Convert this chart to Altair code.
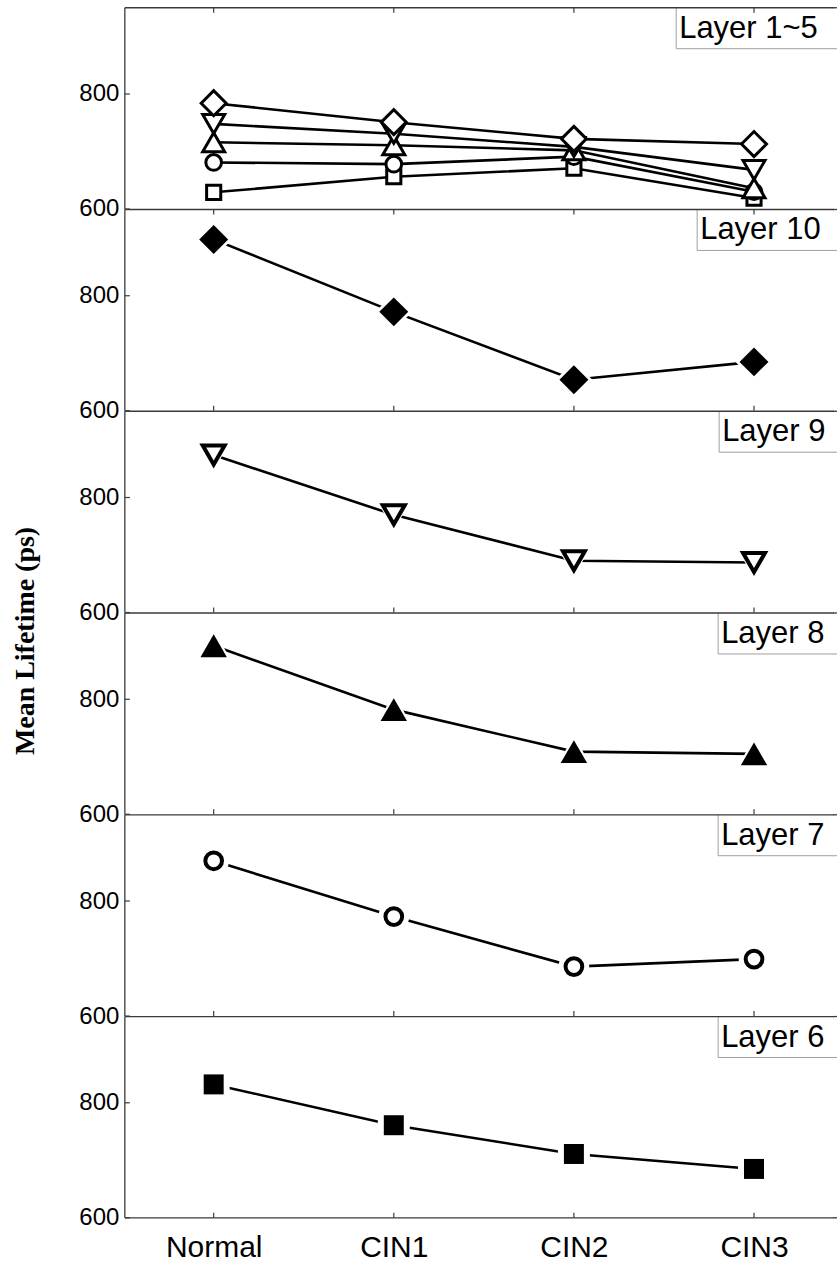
import altair as alt
import pandas as pd

# ---------------- data ----------------
stages = ["Normal", "CIN1", "CIN2", "CIN3"]
layer1 = [629, 656, 671, 619]
layer2 = [681, 678, 691, 630]
layer3 = [716, 711, 702, 636]
layer4 = [748, 731, 708, 668]
layer5 = [784, 751, 722, 713]
layer6 = [832, 761, 711, 685]
layer7 = [870, 773, 686, 699]
layer8 = [893, 782, 709, 705]
layer9 = [874, 770, 690, 687]
layer10 = [898, 772, 654, 685]

panel_titles = ["Layer 1~5", "Layer 10", "Layer 9", "Layer 8", "Layer 7", "Layer 6"]
y_ticks = [600, 800]
y_domain = [600, 950]
y_title = "Mean Lifetime (ps)"

# ---------------- style ----------------
W = 713
H = 201.5
FONT = "Liberation Sans"
FRAME = "#3a3a3a"
BOX_STROKE = "#a0a0a0"
BOX_H = 41
TICK = 5

xscale = alt.Scale(type="point", domain=stages, padding=0.477, align=0.517)
yscale = alt.Scale(domain=y_domain, nice=False, zero=False)
y_axis = alt.Axis(values=y_ticks, orient="left", ticks=False, tickSize=0, domain=False,
                  grid=False, labelPadding=6, labelFontSize=24, labelFont=FONT,
                  labelColor="black", title=None)
x_axis_lab = alt.Axis(orient="bottom", ticks=False, tickSize=0, domain=False,
                      grid=False, labelPadding=15, labelFontSize=30, labelFont=FONT,
                      labelColor="black", labelAngle=0, title=None)

stage_df = pd.DataFrame({"stage": stages})
ytick_df = pd.DataFrame({"value": y_ticks})

no_view = alt.ViewBackground(stroke="transparent", strokeWidth=0)


def build_panel(title, series, box_left, top_ticks, bottom_ticks, halo=None,
                ytitle=False, last=False):
    xax = x_axis_lab if last else None

    def xenc():
        return alt.X("stage:N", sort=stages, scale=xscale, axis=xax)

    def yenc():
        return alt.Y("value:Q", scale=yscale, axis=y_axis)

    rows = [{"stage": st, "value": v, "series": s["name"]}
            for s in series for st, v in zip(stages, s["values"])]
    df = pd.DataFrame(rows)
    base = alt.Chart(df)
    one = pd.DataFrame({"label": [title]})
    layers = []
    # lines (first, so that axes come from it)
    layers.append(base.mark_line(color="black", strokeWidth=2.6).encode(
        x=xenc(), y=yenc(), detail="series:N"))
    # label box
    layers.append(alt.Chart(one).mark_rect(fill="white").encode(
        x=alt.value(box_left), x2=alt.value(W), y=alt.value(0), y2=alt.value(BOX_H)))
    layers.append(alt.Chart(one).mark_rule(color=BOX_STROKE, strokeWidth=1).encode(
        x=alt.value(box_left), y=alt.value(0), y2=alt.value(BOX_H)))
    layers.append(alt.Chart(one).mark_rule(color=BOX_STROKE, strokeWidth=1).encode(
        x=alt.value(box_left), x2=alt.value(W), y=alt.value(BOX_H)))
    # inward ticks
    if top_ticks:
        layers.append(alt.Chart(stage_df).mark_rule(color=FRAME, strokeWidth=1.2).encode(
            x=xenc(), y=alt.value(0), y2=alt.value(TICK)))
    if bottom_ticks:
        layers.append(alt.Chart(stage_df).mark_rule(color=FRAME, strokeWidth=1.2).encode(
            x=xenc(), y=alt.value(H - TICK), y2=alt.value(H)))
    layers.append(alt.Chart(ytick_df).mark_rule(color=FRAME, strokeWidth=1.2).encode(
        y=yenc(), x=alt.value(0), x2=alt.value(TICK)))
    # halo (gap around markers)
    if halo is not None:
        s = series[0]
        layers.append(base.mark_point(shape=s["shape"], size=halo, filled=True,
                                      fill="white", strokeWidth=0, opacity=1).encode(
            x=xenc(), y=yenc()))
    # markers
    for s in series:
        layers.append(base.transform_filter(alt.datum.series == s["name"]).mark_point(
            shape=s["shape"], size=s["size"], filled=True,
            fill="white" if s["open"] else "black", stroke="black",
            strokeWidth=s["sw"], opacity=1).encode(x=xenc(), y=yenc()))
    # frame
    layers.append(alt.Chart(one).mark_rule(color=FRAME, strokeWidth=1.3).encode(
        x=alt.value(0), x2=alt.value(W - 3), y=alt.value(0)))
    layers.append(alt.Chart(one).mark_rule(color=FRAME, strokeWidth=1.3).encode(
        x=alt.value(0), y=alt.value(0), y2=alt.value(H)))
    if last:
        layers.append(alt.Chart(one).mark_rule(color=FRAME, strokeWidth=1.3).encode(
            x=alt.value(0), x2=alt.value(W - 3), y=alt.value(H)))
    # white strip at the right edge (the frame continues past the visible area)
    layers.append(alt.Chart(one).mark_rect(fill="white", stroke="white", strokeWidth=0).encode(
        x=alt.value(W - 3), x2=alt.value(W), y=alt.value(-1), y2=alt.value(H + 1)))
    layers.append(alt.Chart(one).mark_rule(color=FRAME, strokeWidth=1.3).encode(
        x=alt.value(W - 3.5), x2=alt.value(W), y=alt.value(0)))
    if last:
        layers.append(alt.Chart(one).mark_rule(color=FRAME, strokeWidth=1.3).encode(
            x=alt.value(W - 3.5), x2=alt.value(W), y=alt.value(H)))
    layers.append(alt.Chart(one).mark_rule(color=BOX_STROKE, strokeWidth=1).encode(
        x=alt.value(W - 3.5), x2=alt.value(W), y=alt.value(BOX_H)))
    # label text
    layers.append(alt.Chart(one).mark_text(align="left", baseline="alphabetic",
                                           fontSize=31, font=FONT, color="black").encode(
        x=alt.value(box_left + 3), y=alt.value(30), text="label:N"))
    if ytitle:
        t = pd.DataFrame({"t": [y_title]})
        layers.append(alt.Chart(t).mark_text(angle=270, font="Liberation Serif",
                                             fontWeight="bold", fontSize=28,
                                             align="center", baseline="alphabetic",
                                             color="black").encode(
            x=alt.value(-91), y=alt.value(28), text="t:N"))
    return alt.layer(*layers).properties(width=W, height=H, view=no_view)


p1 = build_panel(panel_titles[0], [
    {"name": "Layer 1", "values": layer1, "shape": "square", "size": 200, "open": True, "sw": 3},
    {"name": "Layer 2", "values": layer2, "shape": "circle", "size": 246, "open": True, "sw": 3},
    {"name": "Layer 3", "values": layer3, "shape": "triangle-up", "size": 484, "open": True, "sw": 3},
    {"name": "Layer 4", "values": layer4, "shape": "triangle-down", "size": 484, "open": True, "sw": 3},
    {"name": "Layer 5", "values": layer5, "shape": "diamond", "size": 625, "open": True, "sw": 3},
], box_left=552, top_ticks=True, bottom_ticks=False)

p2 = build_panel(panel_titles[1], [
    {"name": "Layer 10", "values": layer10, "shape": "diamond", "size": 840, "open": False, "sw": 0},
], box_left=573, top_ticks=True, bottom_ticks=True, halo=1369)

p3 = build_panel(panel_titles[2], [
    {"name": "Layer 9", "values": layer9, "shape": "triangle-down", "size": 480, "open": True, "sw": 4},
], box_left=595, top_ticks=False, bottom_ticks=True, halo=1296)

p4 = build_panel(panel_titles[3], [
    {"name": "Layer 8", "values": layer8, "shape": "triangle-up", "size": 700, "open": False, "sw": 0},
], box_left=594, top_ticks=False, bottom_ticks=True, halo=1332, ytitle=True)

p5 = build_panel(panel_titles[4], [
    {"name": "Layer 7", "values": layer7, "shape": "circle", "size": 280, "open": True, "sw": 4},
], box_left=594, top_ticks=False, bottom_ticks=True, halo=942)

p6 = build_panel(panel_titles[5], [
    {"name": "Layer 6", "values": layer6, "shape": "square", "size": 400, "open": False, "sw": 0},
], box_left=594, top_ticks=False, bottom_ticks=True, halo=1024, last=True)

chart = alt.vconcat(p1, p2, p3, p4, p5, p6, spacing=0, bounds="flush").properties(
    padding={"left": 11, "top": 6, "right": 0, "bottom": 2},
    background="white",
).configure(font=FONT).configure_view(stroke="transparent", strokeWidth=0).configure_axis(
    labelFontSize=24)

chart.save("out.html", embed_options={"renderer": "svg", "actions": False})
